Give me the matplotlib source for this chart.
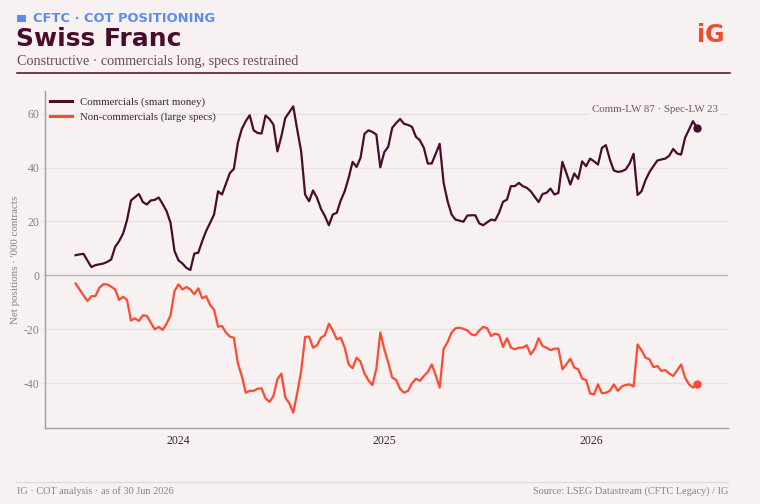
import matplotlib
matplotlib.use("Agg")
import matplotlib.pyplot as plt
import matplotlib.dates as mdates
from matplotlib.lines import Line2D
from matplotlib.patches import Rectangle
import pandas as pd

# ---------------- data ----------------
start_date = "2023-07-04"   # first weekly observation (Tuesday)

commercials = [
    7.5, 7.8, 8.0, 5.5, 3.1, 3.8, 4.1, 4.4, 5.0, 5.9,
    10.6, 12.7, 15.5, 20.5, 27.8, 29.0, 30.2, 27.2, 26.3, 27.8,
    28.0, 28.9, 26.5, 23.8, 19.5, 9.0, 5.6, 4.4, 2.8, 2.0,
    8.1, 8.4, 12.7, 16.5, 19.5, 22.6, 31.2, 30.0, 34.0, 38.0,
    39.5, 49.1, 54.3, 57.2, 59.4, 53.8, 52.8, 52.6, 59.3, 58.0,
    55.9, 46.0, 51.6, 58.4, 60.5, 62.7, 54.1, 46.0, 30.0, 27.5,
    31.5, 28.8, 24.7, 22.0, 18.6, 22.6, 23.2, 27.8, 31.2, 36.2,
    42.1, 40.2, 43.6, 52.5, 53.8, 53.2, 52.2, 40.1, 45.7, 47.7,
    54.7, 56.5, 58.0, 56.2, 55.8, 55.1, 51.4, 50.1, 47.3, 41.5,
    41.5, 45.2, 48.8, 34.3, 27.5, 22.6, 20.7, 20.3, 19.9, 22.2,
    22.3, 22.3, 19.3, 18.6, 19.7, 20.7, 20.4, 23.2, 27.3, 28.1,
    33.1, 33.1, 34.3, 33.1, 32.5, 31.2, 29.2, 27.2, 30.2, 30.6,
    32.2, 30.0, 30.6, 42.1, 38.0, 33.7, 37.8, 35.8, 42.3, 40.5,
    43.3, 42.3, 41.1, 47.3, 48.3, 43.0, 38.9, 38.4, 38.6, 39.3,
    41.5, 45.1, 29.8, 31.2, 35.3, 38.3, 40.5, 42.6, 43.0, 43.3,
    44.4, 46.9, 45.2, 44.8, 51.0, 54.1, 57.2, 54.7,
]

non_commercials = [
    -3.0, -5.2, -7.4, -9.5, -7.7, -7.7, -4.6, -3.3, -3.3, -4.2,
    -5.2, -9.1, -7.9, -9.1, -16.7, -15.9, -16.9, -14.8, -15.0, -17.5,
    -20.0, -19.1, -20.2, -17.9, -14.8, -5.8, -3.3, -5.2, -4.3, -5.2,
    -7.0, -4.8, -8.5, -7.7, -11.0, -12.8, -19.0, -18.8, -21.2, -22.7,
    -23.1, -32.6, -37.3, -43.5, -42.8, -42.8, -42.0, -41.9, -45.6, -46.9,
    -44.7, -38.5, -36.4, -45.3, -47.4, -50.9, -43.7, -35.4, -22.8, -22.7,
    -26.8, -25.9, -23.1, -22.2, -17.9, -20.4, -23.7, -23.1, -26.8, -33.0,
    -34.4, -30.5, -32.0, -36.4, -38.9, -40.7, -34.6, -21.2, -27.4, -32.3,
    -37.9, -38.8, -42.1, -43.5, -42.8, -40.0, -38.3, -39.1, -37.3, -35.8,
    -33.0, -37.0, -41.6, -27.2, -24.7, -21.2, -19.6, -19.4, -19.8, -20.4,
    -21.9, -22.2, -20.4, -19.1, -19.6, -22.5, -21.6, -22.1, -26.5, -23.3,
    -26.8, -27.4, -26.8, -26.8, -25.9, -29.3, -27.2, -23.3, -26.2, -26.8,
    -27.7, -27.2, -27.1, -34.8, -33.0, -30.9, -34.2, -34.8, -38.3, -38.8,
    -43.8, -44.1, -40.4, -43.7, -43.5, -42.8, -40.4, -42.8, -41.2, -40.6,
    -40.4, -41.2, -25.6, -27.8, -30.5, -31.1, -34.0, -33.6, -35.4, -35.1,
    -36.4, -37.3, -35.2, -33.0, -37.9, -40.4, -41.6, -40.1,
]

series_labels = ["Commercials (smart money)", "Non-commercials (large specs)"]
y_ticks = [-40, -20, 0, 20, 40, 60]

eyebrow = "CFTC · COT POSITIONING"
title = "Swiss Franc"
subtitle = "Constructive · commercials long, specs restrained"
annotation = "Comm-LW 87 · Spec-LW 23"
y_label = "Net positions · '000 contracts"
footer_left = "IG · COT analysis · as of 30 Jun 2026"
footer_right = "Source: LSEG Datastream (CFTC Legacy) / IG"
logo = "iG"

# ---------------- style ----------------
W, H = 760, 504
BG = "#f7f1f1"
MAROON = "#4a0c2c"
ORANGE = "#ff4a31"
BLUE = "#5b8cf0"
GRID = "#e9e1e2"
ZERO = "#b9afb2"
SPINE = "#a69ca0"
MUTED = "#8b7f83"
TEXT = "#3b2530"
SERIF = ["Liberation Serif", "DejaVu Serif"]
SANS = ["DejaVu Sans"]

plt.rcParams["axes.unicode_minus"] = False
plt.rcParams["font.family"] = SERIF


def fx(px):
    return px / W


def fy(py):
    return 1 - py / H


fig = plt.figure(figsize=(W / 100, H / 100), dpi=100, facecolor=BG)

# header
fig.patches.append(Rectangle((fx(17), fy(22)), fx(26) - fx(17), fy(15) - fy(22),
                             transform=fig.transFigure, facecolor=BLUE, edgecolor="none"))
fig.text(fx(33), fy(22), eyebrow, family=SANS, weight="bold", fontsize=9.4,
         color=BLUE, ha="left", va="baseline")
fig.text(fx(16), fy(46.5), title, family=SANS, weight="heavy", fontsize=18,
         color=MAROON, ha="left", va="baseline")
fig.text(fx(17), fy(65), subtitle, family=SERIF, fontsize=10.2,
         color="#6a4a58", ha="left", va="baseline")
fig.text(fx(724.5), fy(41.5), logo, family=SANS, weight="bold", fontsize=17,
         color="#f04a2f", ha="right", va="baseline")
fig.add_artist(Line2D([fx(17), fx(730)], [fy(73), fy(73)], transform=fig.transFigure,
                      color=MAROON, lw=1.1))

# footer
fig.add_artist(Line2D([fx(16), fx(728)], [fy(482), fy(482)], transform=fig.transFigure,
                      color="#e3d9db", lw=0.9))
fig.text(fx(17), fy(494), footer_left, family=SERIF, fontsize=7.4, color=MUTED,
         ha="left", va="baseline")
fig.text(fx(728), fy(494), footer_right, family=SERIF, fontsize=7.4, color=MUTED,
         ha="right", va="baseline")

# axes
ax = fig.add_axes([fx(44.5), fy(428), fx(728) - fx(44.5), fy(91) - fy(428)])
ax.set_facecolor(BG)

dates = pd.date_range(start_date, periods=len(commercials), freq="7D")

ax.plot(dates, commercials, color=MAROON, lw=1.6, label=series_labels[0], zorder=3,
        solid_joinstyle="round")
ax.plot(dates, non_commercials, color=ORANGE, lw=1.6, label=series_labels[1], zorder=3,
        solid_joinstyle="round")
ax.plot(dates[-1:], commercials[-1:], "o", color=MAROON, ms=5, zorder=4)
ax.plot(dates[-1:], non_commercials[-1:], "o", color=ORANGE, ms=5, zorder=4)

ax.margins(x=0.05, y=0.05)
ax.set_yticks(y_ticks)
ax.yaxis.grid(True, color=GRID, lw=0.9, zorder=0)
ax.axhline(0, color=ZERO, lw=0.9, zorder=1)
ax.set_axisbelow(True)

ax.xaxis.set_major_locator(mdates.YearLocator())
ax.xaxis.set_major_formatter(mdates.DateFormatter("%Y"))

for s in ["top", "right"]:
    ax.spines[s].set_visible(False)
for s in ["left", "bottom"]:
    ax.spines[s].set_color(SPINE)
    ax.spines[s].set_linewidth(1.0)

ax.tick_params(axis="y", length=2, width=0.8, color=GRID, labelsize=8.5,
               labelcolor=MUTED, pad=1.5)
ax.tick_params(axis="x", length=0, labelsize=8.5, labelcolor=TEXT, pad=5)

ax.set_ylabel(y_label, fontsize=7.9, color=MUTED, labelpad=3)

leg = ax.legend(loc="upper left", bbox_to_anchor=(fx(51) - fx(44.5), 1 - (97.5 - 91) / (428 - 91)),
                bbox_transform=ax.transAxes, frameon=False, fontsize=7.8,
                handlelength=2.0, handletextpad=0.7, borderpad=0, borderaxespad=0,
                labelspacing=0.45, labelcolor=TEXT)
for h in leg.legend_handles:
    h.set_linewidth(2.2)

ax.text(0.985, 1 - (110 - 91) / (428 - 91), annotation, transform=ax.transAxes,
        ha="right", va="center", fontsize=7.8, color="#6e5560", zorder=5,
        bbox=dict(boxstyle="square,pad=0.15", facecolor=BG, edgecolor="none"))

fig.savefig("out.png", dpi=100, facecolor=BG)
